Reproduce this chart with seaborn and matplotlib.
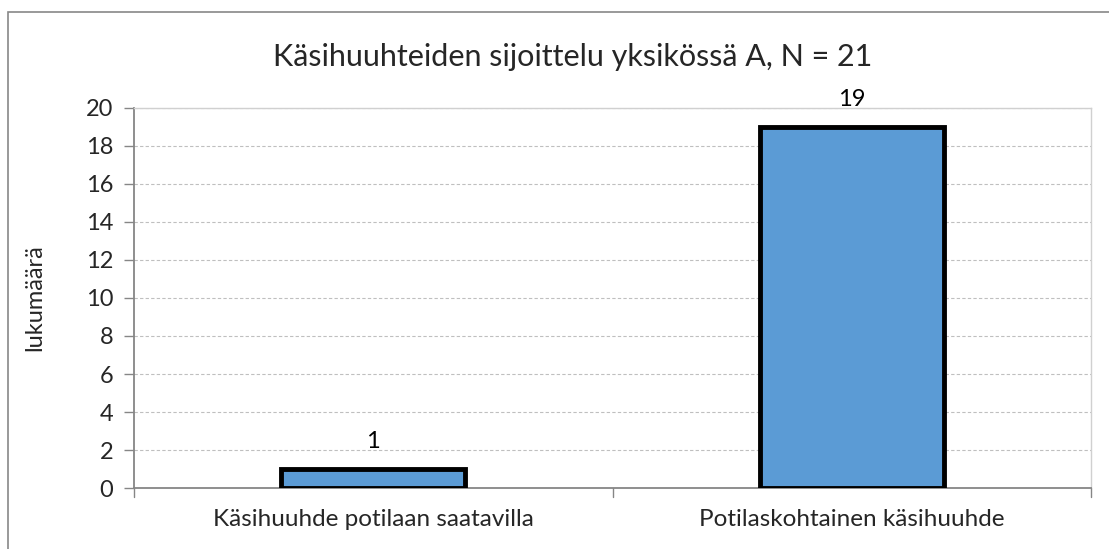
import matplotlib
matplotlib.use('Agg')
import matplotlib.pyplot as plt
import matplotlib.patches as patches
import seaborn as sns
import pandas as pd

# Data
categories = ['Käsihuuhde potilaan saatavilla', 'Potilaskohtainen käsihuuhde']
counts = [1, 19]
y_ticks = list(range(0, 21, 2))

df = pd.DataFrame({'kategoria': categories, 'lukumaara': counts})

sns.set_theme(style='white')
plt.rcParams['font.family'] = ['Lato', 'DejaVu Sans']

fig = plt.figure(figsize=(11.09, 5.49), dpi=100)
ax = fig.add_axes([0.1208, 0.1111, 0.8630, 0.6922])

sns.barplot(data=df, x='kategoria', y='lukumaara', color='#5B9BD5', saturation=1,
            edgecolor='black', linewidth=3.5, width=0.385, ax=ax, zorder=3)

# Value labels
for i, v in enumerate(counts):
    ax.text(i, v + 0.9, str(v), ha='center', va='bottom', fontsize=17, color='black')

ax.set_ylim(0, 20)
ax.set_xlim(-0.5, 1.5)
ax.set_yticks(y_ticks)
ax.yaxis.grid(True, linestyle=(0, (3, 2)), color='#BFBFBF', linewidth=0.8, zorder=0)
ax.tick_params(axis='y', labelsize=17, length=7, color='#868686', width=1, direction='out', left=True, pad=8)
ax.tick_params(axis='x', labelsize=17.5, length=0, pad=15)

# Category boundary tick marks on the x-axis
for xb in [-0.5, 0.5, 1.5]:
    ax.plot([xb, xb], [0, -0.45], color='#868686', lw=1, clip_on=False, zorder=4)

ax.set_xlabel('')
ax.set_ylabel('lukumäärä', fontsize=17)
ax.yaxis.set_label_coords(-0.093, 0.5)
ax.set_title('Käsihuuhteiden sijoittelu yksikössä A, N = 21', fontsize=22, pad=30, x=0.458)

for side in ['left', 'bottom']:
    ax.spines[side].set_color('#868686')
    ax.spines[side].set_linewidth(1.3)
for side in ['top', 'right']:
    ax.spines[side].set_color('#D0D0D0')
    ax.spines[side].set_linewidth(1)

# Outer chart border
fig.patches.append(patches.Rectangle((8 / 1109, -0.1), 1.2, 1.1 - 12 / 549,
                                     transform=fig.transFigure, fill=False,
                                     edgecolor='#888888', linewidth=1.2))

fig.savefig('out.png', dpi=100)
